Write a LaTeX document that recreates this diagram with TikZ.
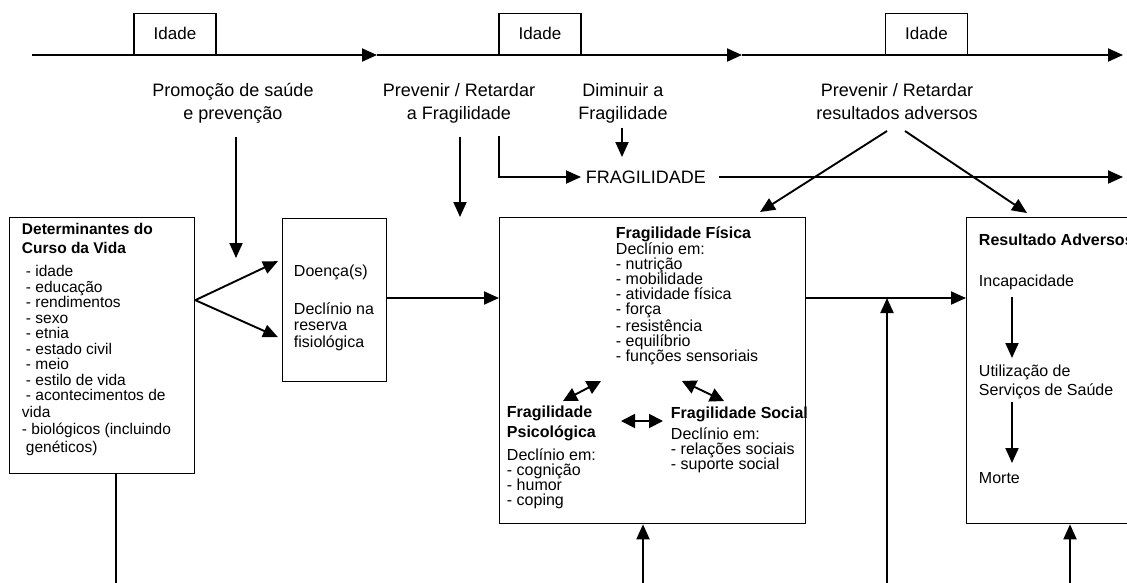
\documentclass[tikz,border=0pt]{standalone}
\usepackage{fontspec}
\setmainfont{Liberation Sans}
\usetikzlibrary{arrows.meta,calc}
\begin{document}
\begin{tikzpicture}[x=1pt,y=-1pt,
  line width=1.9pt,
  arr/.style={-{Triangle[length=15pt,width=13pt]}},
  darr/.style={{Triangle[length=14pt,width=14pt]}-{Triangle[length=14pt,width=14pt]}},
  box/.style={draw,line width=1.3pt,inner sep=0pt,anchor=north west},
  agebox/.style={draw,line width=1.3pt,inner sep=0pt,anchor=south,minimum width=82pt,minimum height=41pt,font=\fontsize{17}{20}\selectfont},
  lbl/.style={align=center,font=\fontsize{18}{22.5}\selectfont,inner sep=0pt,anchor=base},
  txt/.style={align=left,font=\fontsize{16}{15}\selectfont,inner sep=0pt,anchor=base west},
]
\clip (0,0) rectangle (1127,582);
% timeline
\coordinate (t0) at (32,55);
\coordinate (t1) at (377,55);
\coordinate (t2) at (742,55);
\coordinate (t3) at (1123,55);
\draw[arr] (t0) -- (t1);
\draw[arr] (t1) -- (t2);
\draw[arr] (t2) -- (t3);
\node[agebox,fill=white] (age1) at (175,55) {Idade};
\node[agebox,fill=white] (age2) at (540,55) {Idade};
\node[agebox,fill=white] (age3) at (926.5,55) {Idade};
% labels (base = baseline of last line)
\node[lbl] (l1) at (233,119) {Promoção de saúde\\e prevenção};
\node[lbl] (l2) at (459,119) {Prevenir / Retardar\\a Fragilidade};
\node[lbl] (l3) at (623,119) {Diminuir a\\Fragilidade};
\node[lbl] (l4) at (897,119) {Prevenir / Retardar\\resultados adversos};
\node[font=\fontsize{18}{22.5}\selectfont,inner sep=4pt,anchor=west] (frg) at (581,177) {FRAGILIDADE};
% boxes
\node[box,minimum width=185pt,minimum height=256pt] (det) at (9,217) {};
\node[box,minimum width=104pt,minimum height=163pt] (doe) at (282,218) {};
\node[box,minimum width=306pt,minimum height=306pt] (frag) at (499,217) {};
\node[box,minimum width=220pt,minimum height=306pt] (res) at (966,217) {};
% box texts
\node[txt,font=\fontsize{15.5}{15.5}\selectfont] (dett) at (21,452.5) {\textbf{Determinantes do}\\[3.5pt]\textbf{Curso da Vida}\\[8pt]
\hspace*{4pt}- idade\\
\hspace*{4pt}- educação\\
\hspace*{4pt}- rendimentos\\
\hspace*{4pt}- sexo\\
\hspace*{4pt}- etnia\\
\hspace*{4pt}- estado civil\\
\hspace*{4pt}- meio\\
\hspace*{4pt}- estilo de vida\\
\hspace*{4pt}- acontecimentos de\\[1.5pt]
vida\\[1.5pt]
- biológicos (incluindo\\[2.5pt]
\hspace*{4pt}genéticos)};
\node[txt,font=\fontsize{16}{16.5}\selectfont] (doet) at (293,347) {Doença(s)\\[21.5pt]Declínio na\\reserva\\fisiológica};
\node[txt] (fis) at (615,361) {\textbf{Fragilidade Física}\\Declínio em:\\- nutrição\\- mobilidade\\- atividade física\\- força\\- resistência\\- equilíbrio\\- funções sensoriais};
\node[txt] (psi) at (506,505) {\textbf{Fragilidade}\\[4pt]\textbf{Psicológica}\\[6pt]Declínio em:\\- cognição\\- humor\\- coping};
\node[txt] (soc) at (670,469) {\textbf{Fragilidade Social}\\[4pt]Declínio em:\\- relações sociais\\- suporte social};
\node[txt] (res1) at (978,245) {\textbf{Resultado Adversos}};
\node[txt] (res2) at (978,286) {Incapacidade};
\node[txt,font=\fontsize{16}{19}\selectfont] (res3) at (978,395) {Utilização de\\Serviços de Saúde};
\node[txt] (res4) at (978,483) {Morte};
% connectors from labels
\draw[arr] ($(l1.south)+(3,13)$) coordinate (a1) -- (a1 |- 0,258);
\draw[arr] ($(l2.south)+(1,13)$) coordinate (a2) -- (a2 |- frag.north);
\draw[arr] (499,136) coordinate (a3) |- (frg.west);
\draw[arr] ($(l3.south)+(-1,4)$) coordinate (a4) -- (a4 |- 0,157);
\draw[arr] ($(frg.east)+(8,0)$) -- (1123,177) coordinate (fend);
\draw[arr] (887,131) coordinate (a5) -- (760,212) coordinate (a5e);
\draw[arr] (905,131) coordinate (a6) -- (1027,213) coordinate (a6e);
% fork
\coordinate (fork) at (det.east |- doe.center);
\draw[arr] (fork) -- ($(doe.west)+(-4,-39)$);
\draw[arr] (fork) -- ($(doe.west)+(-4,37)$);
% main flow
\draw[arr] (doe.east |- 0,298) -- (frag.west |- 0,298);
\draw[arr] (frag.east |- 0,298) -- (res.west |- 0,298);
% inner double arrows
\draw[darr] (563,401) coordinate (d1a) -- (601,381) coordinate (d1b);
\draw[darr] (682,381) coordinate (d2a) -- (724,401) coordinate (d2b);
\draw[darr] (621,421) coordinate (d3a) -- (663,421) coordinate (d3b);
% result arrows
\draw[arr] (1012,297) coordinate (r1) -- (1012,358) coordinate (r2);
\draw[arr] (1012,402) coordinate (r3) -- (1012,463) coordinate (r4);
% bottom lines
\draw ($(det.south)+(13.5,0)$) -- ++(0,120);
\draw[arr] (643,590) coordinate (b1) -- (b1 |- frag.south);
\draw[arr] (887,590) coordinate (b2) -- (887,298);
\draw[arr] (1070,590) coordinate (b3) -- (b3 |- res.south);
\end{tikzpicture}
\end{document}
